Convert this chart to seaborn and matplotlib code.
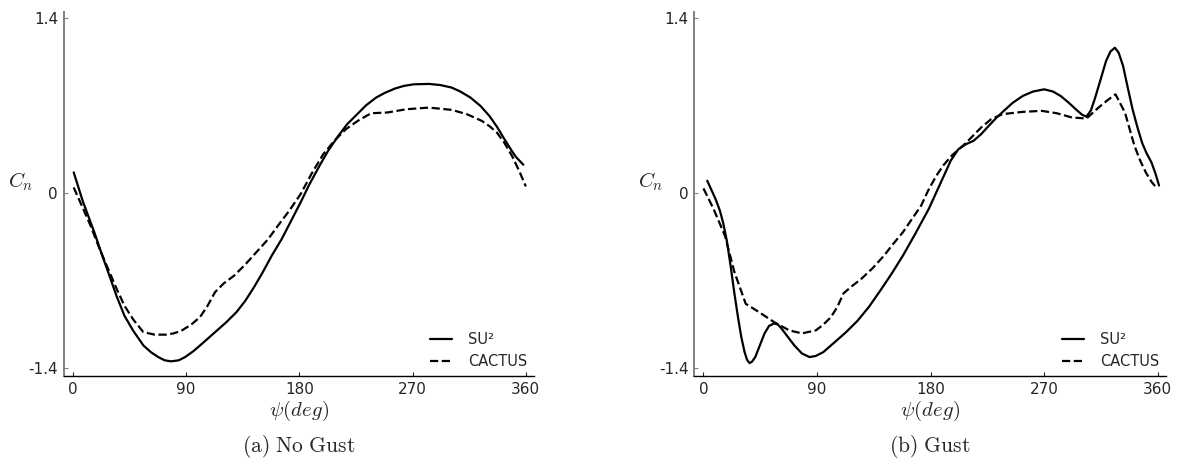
import matplotlib
matplotlib.use("Agg")
import matplotlib.pyplot as plt
import seaborn as sns

# ---------------- data ----------------
# (a) No Gust
psi_su2_a = [0.6, 8, 17, 23, 29, 35, 41, 48, 56, 62, 68, 73, 78, 84, 89, 96, 104, 113, 122,
             130, 137, 144, 151, 158, 166, 173, 181, 188, 196, 203, 211, 218, 226, 233, 241,
             248, 256, 263, 271, 283, 292, 301, 308, 316, 324, 331, 337, 343, 348, 352, 358]
cn_su2_a = [0.165, -0.07, -0.313, -0.49, -0.66, -0.83, -0.98, -1.10, -1.216, -1.27, -1.31,
            -1.335, -1.343, -1.335, -1.31, -1.26, -1.19, -1.11, -1.03, -0.95, -0.86, -0.75,
            -0.63, -0.50, -0.366, -0.23, -0.074, 0.07, 0.218, 0.34, 0.457, 0.55, 0.63, 0.70,
            0.762, 0.80, 0.834, 0.855, 0.868, 0.871, 0.862, 0.842, 0.81, 0.762, 0.695, 0.616,
            0.53, 0.43, 0.35, 0.29, 0.226]
psi_cactus_a = [0.6, 7, 14, 21, 29, 35, 41, 48, 56, 65, 74, 80, 86, 94, 101, 107, 113, 120,
                128, 137, 146, 155, 163, 172, 181, 190, 199, 208, 217, 227, 237, 250, 265, 283,
                301, 313, 325, 331, 337, 343, 349, 355, 360]
cn_cactus_a = [0.045, -0.10, -0.26, -0.44, -0.63, -0.77, -0.90, -1.01, -1.11, -1.13, -1.13,
               -1.12, -1.10, -1.05, -0.99, -0.90, -0.79, -0.72, -0.66, -0.57, -0.47, -0.37,
               -0.26, -0.14, -0.008, 0.16, 0.31, 0.42, 0.51, 0.58, 0.637, 0.643, 0.669, 0.682,
               0.664, 0.63, 0.576, 0.535, 0.483, 0.40, 0.297, 0.17, 0.053]

# (b) Gust
psi_su2_b = [3, 9.6, 13, 15.5, 18.5, 21.5, 24.5, 27.5, 30, 32.6, 34.5, 36.5, 38.5, 41, 44.5,
             48.4, 52, 56, 59, 62, 67, 72, 78, 84, 89, 95, 104, 113, 122, 131, 140, 149, 158,
             167, 178.5, 190.5, 196, 202, 208, 214, 220, 226, 232, 238, 245, 253, 261, 270,
             277, 283, 289, 295, 300, 303.5, 307, 310, 314.5, 319, 322.5, 326, 329, 332.5,
             336, 340, 344, 347.6, 351, 355, 358, 361]
cn_su2_b = [0.098, -0.048, -0.14, -0.234, -0.38, -0.58, -0.80, -1.00, -1.15, -1.27, -1.33,
            -1.357, -1.345, -1.31, -1.22, -1.12, -1.06, -1.04, -1.05, -1.083, -1.15, -1.216,
            -1.28, -1.309, -1.30, -1.269, -1.19, -1.11, -1.02, -0.91, -0.78, -0.645, -0.50,
            -0.34, -0.127, 0.138, 0.26, 0.35, 0.39, 0.417, 0.47, 0.536, 0.60, 0.656, 0.72,
            0.775, 0.81, 0.828, 0.81, 0.775, 0.725, 0.669, 0.625, 0.61, 0.66, 0.749, 0.90,
            1.054, 1.13, 1.16, 1.12, 1.014, 0.85, 0.669, 0.52, 0.40, 0.32, 0.244, 0.16, 0.06]
psi_cactus_b = [0, 8, 17, 24.5, 33.5, 44, 56, 68, 78, 89, 95, 101, 106, 111, 118, 125, 134,
                143, 150, 158, 165, 172.5, 178, 184.5, 190, 196.5, 208, 220, 228, 237, 253, 268,
                280, 292, 303.5, 313, 320, 326.5, 330, 334, 338, 341.5, 346, 350.5, 355, 359.4]
cn_cactus_b = [0.037, -0.127, -0.34, -0.63, -0.884, -0.95, -1.03, -1.096, -1.12, -1.096,
               -1.05, -0.99, -0.91, -0.80, -0.74, -0.685, -0.60, -0.50, -0.41, -0.313, -0.21,
               -0.10, 0.02, 0.138, 0.22, 0.297, 0.40, 0.523, 0.59, 0.63, 0.648, 0.656, 0.637,
               0.603, 0.595, 0.682, 0.74, 0.788, 0.72, 0.642, 0.50, 0.377, 0.26, 0.165, 0.09,
               0.037]

x_ticks = [0, 90, 180, 270, 360]
x_ticklabels = ["0", "90", "180", "270", "360"]
y_ticks = [-1.4, 0, 1.4]
y_ticklabels = ["-1.4", "0", "1.4"]
series_labels = ["SU²", "CACTUS"]
captions = [r"$\mathrm{(a)\ No\ Gust}$", r"$\mathrm{(b)\ Gust}$"]

# ---------------- style ----------------
sns.set_style("ticks")
plt.rcParams["font.family"] = ["DejaVu Sans"]
plt.rcParams["mathtext.fontset"] = "cm"

fig = plt.figure(figsize=(11.8, 4.63), dpi=100)
ax_a = fig.add_axes([63.5 / 1180, 87 / 463, 470.5 / 1180, 364 / 463])
ax_b = fig.add_axes([694 / 1180, 87 / 463, 472 / 1180, 364 / 463])

panels = [
    (ax_a, psi_su2_a, cn_su2_a, psi_cactus_a, cn_cactus_a, captions[0]),
    (ax_b, psi_su2_b, cn_su2_b, psi_cactus_b, cn_cactus_b, captions[1]),
]

for ax, xs, ys, xc, yc, cap in panels:
    sns.lineplot(x=xs, y=ys, ax=ax, color="black", lw=1.6, sort=False,
                 label=series_labels[0])
    sns.lineplot(x=xc, y=yc, ax=ax, color="black", lw=1.6, sort=False,
                 linestyle="--", label=series_labels[1])
    ax.set_xlim(-7.5, 366.5)
    ax.set_ylim(-1.46, 1.445)
    ax.set_xticks(x_ticks)
    ax.set_xticklabels(x_ticklabels)
    ax.set_yticks(y_ticks)
    ax.set_yticklabels(y_ticklabels)
    ax.tick_params(axis="both", direction="in", length=3, width=0.8, labelsize=11)
    ax.tick_params(axis="x", pad=4)
    ax.tick_params(axis="y", pad=4, color="#808080")
    for s in ["top", "right"]:
        ax.spines[s].set_visible(False)
    ax.spines["left"].set_color("#808080")
    ax.spines["left"].set_linewidth(1.4)
    ax.spines["bottom"].set_color("black")
    ax.spines["bottom"].set_linewidth(1.0)

    ax.set_xlabel(r"$\psi(deg)$", fontsize=15)
    ax.xaxis.set_label_coords(0.5, -0.097)
    ax.xaxis.label.set_va("center")
    ax.set_ylabel(r"$C_n$", fontsize=15, rotation=0)
    ax.yaxis.set_label_coords(-0.092, 0.535)
    ax.yaxis.label.set_va("center")
    ax.yaxis.label.set_ha("center")

    ax.legend(loc="lower right", bbox_to_anchor=(0.985, 0.018), frameon=False,
              fontsize=10.5, handlelength=1.5, handletextpad=1.1, labelspacing=0.5,
              borderpad=0, borderaxespad=0)

    ax.text(0.5, -0.195, cap, transform=ax.transAxes, ha="center", va="center",
            fontsize=15.5)

fig.savefig("out.png", dpi=100)
